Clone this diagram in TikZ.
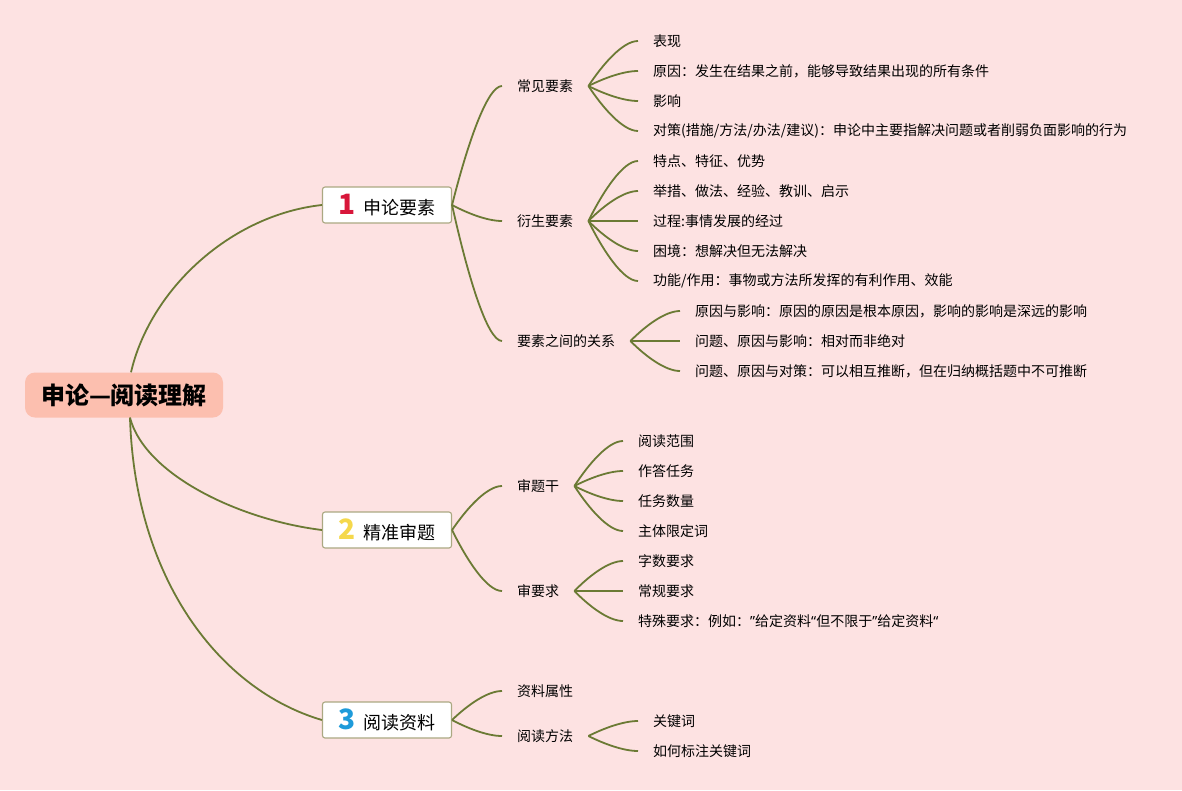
\documentclass[tikz,border=0pt]{standalone}
\usepackage{fontspec}
\setmainfont{Noto Sans CJK SC}
\newfontfamily\quotefont{Noto Sans}
\usepackage{tikz}
\usetikzlibrary{calc}
\definecolor{paper}{HTML}{FDE2E2}
\definecolor{rootfill}{HTML}{FCBFAF}
\definecolor{stem}{HTML}{6B7A34}
\definecolor{frame}{HTML}{ABA882}
\definecolor{numred}{HTML}{D8163A}
\definecolor{numyellow}{HTML}{F5D84C}
\definecolor{numblue}{HTML}{1E9BDA}
\newcommand*{\topicnum}[2]{{\color{#1}\fontsize{28pt}{28pt}\selectfont\bfseries #2}\hspace{7pt}}
\newcommand*{\qmark}[1]{{\quotefont #1}}

\begin{document}
\begin{tikzpicture}[x=1pt, y=-1pt,
    hub/.style={rectangle, rounded corners=10pt, fill=rootfill, minimum width=198pt,
      minimum height=45pt, font=\fontsize{24pt}{24pt}\selectfont\bfseries},
    topic/.style={rectangle, rounded corners=2.5pt, draw=frame, line width=1.1pt, fill=white,
      minimum width=129pt, minimum height=36pt, inner sep=0pt, font=\fontsize{18pt}{18pt}\selectfont},
    item/.style={anchor=west, inner xsep=15pt, inner ysep=2pt, font=\fontsize{14pt}{14pt}\selectfont},
    wire/.style={draw=stem, line width=1.8pt},
    limb/.style={to path={let \p1=(\tikztostart), \p2=(\tikztotarget) in
      .. controls ({\x1+0.3*(\x2-\x1)}, {\y1+0.5*(\y2-\y1)}) and ({\x1+0.7*(\x2-\x1)}, \y2) .. (\tikztotarget)}}]

  \fill[paper] (0,0) rectangle (1182,790);
  \useasboundingbox (0,0) rectangle (1182,790);

  \node[hub] (root) at (124,395) {申论—阅读理解};

  \node[topic] (t1) at (387,205) {\topicnum{numred}{1}申论要素};
  \node[topic] (t2) at (387,530) {\topicnum{numyellow}{2}精准审题};
  \node[topic] (t3) at (387,720) {\topicnum{numblue}{3}阅读资料};

  {\tikzstyle{every node}=[item]
    \node (kind) at (502,86) {常见要素};
    \node (derived) at (502,221) {衍生要素};
    \node (relate) at (502,341) {要素之间的关系};
    \node (ask) at (502,486) {审题干};
    \node (need) at (502,591) {审要求};
    \node (attr) at (502,691) {资料属性};
    \node (method) at (502,736) {阅读方法};

    \foreach \t [count=\i] in {表现, 原因：发生在结果之前，能够导致结果出现的所有条件, 影响,
        对策(措施/方法/办法/建议)：申论中主要指解决问题或者削弱负面影响的行为}
    {
      \node (kind\i) at (638, 11+30*\i) {\t};
    }

    \foreach \t [count=\i] in {特点、特征、优势, 举措、做法、经验、教训、启示, 过程:事情发展的经过,
        困境：想解决但无法解决, 功能/作用：事物或方法所发挥的有利作用、效能}
    {
      \node (derived\i) at (638, 131+30*\i) {\t};
    }

    \foreach \t [count=\i] in {原因与影响：原因的原因是根本原因，影响的影响是深远的影响,
        问题、原因与影响：相对而非绝对, 问题、原因与对策：可以相互推断，但在归纳概括题中不可推断}
    {
      \node (relate\i) at (680, 281+30*\i) {\t};
    }

    \foreach \t [count=\i] in {阅读范围, 作答任务, 任务数量, 主体限定词}
    {
      \node (ask\i) at (623, 411+30*\i) {\t};
    }

    \foreach \t [count=\i] in {字数要求, 常规要求,
        特殊要求：例如：\qmark{”}给定资料\qmark{“}但不限于\qmark{”}给定资料\qmark{“}}
    {
      \node (need\i) at (623, 531+30*\i) {\t};
    }

    \foreach \t [count=\i] in {关键词, 如何标注关键词}
    {
      \node (method\i) at (638, 691+30*\i) {\t};
    }
  }

  \draw[wire] ([xshift=7pt]root.north) .. controls (150,290) and (230,215) .. (t1.west);
  \draw[wire] ([xshift=6pt]root.south) .. controls (145,475) and (240,520) .. (t2.west);
  \draw[wire] ([xshift=6pt]root.south) .. controls (135,580) and (220,690) .. (t3.west);

  \foreach \s in {kind, derived, relate}
    \draw[wire] (t1.east) to[limb] (\s.west);
  \foreach \s in {ask, need}
    \draw[wire] (t2.east) to[limb] (\s.west);
  \foreach \s in {attr, method}
    \draw[wire] (t3.east) to[limb] (\s.west);

  \foreach \i in {1,...,4}
    \draw[wire] (kind.east) to[limb] (kind\i.west);
  \foreach \i in {1,...,5}
    \draw[wire] (derived.east) to[limb] (derived\i.west);
  \foreach \i in {1,...,3}
    \draw[wire] (relate.east) to[limb] (relate\i.west);
  \foreach \i in {1,...,4}
    \draw[wire] (ask.east) to[limb] (ask\i.west);
  \foreach \i in {1,...,3}
    \draw[wire] (need.east) to[limb] (need\i.west);
  \foreach \i in {1,2}
    \draw[wire] (method.east) to[limb] (method\i.west);
\end{tikzpicture}
\end{document}
